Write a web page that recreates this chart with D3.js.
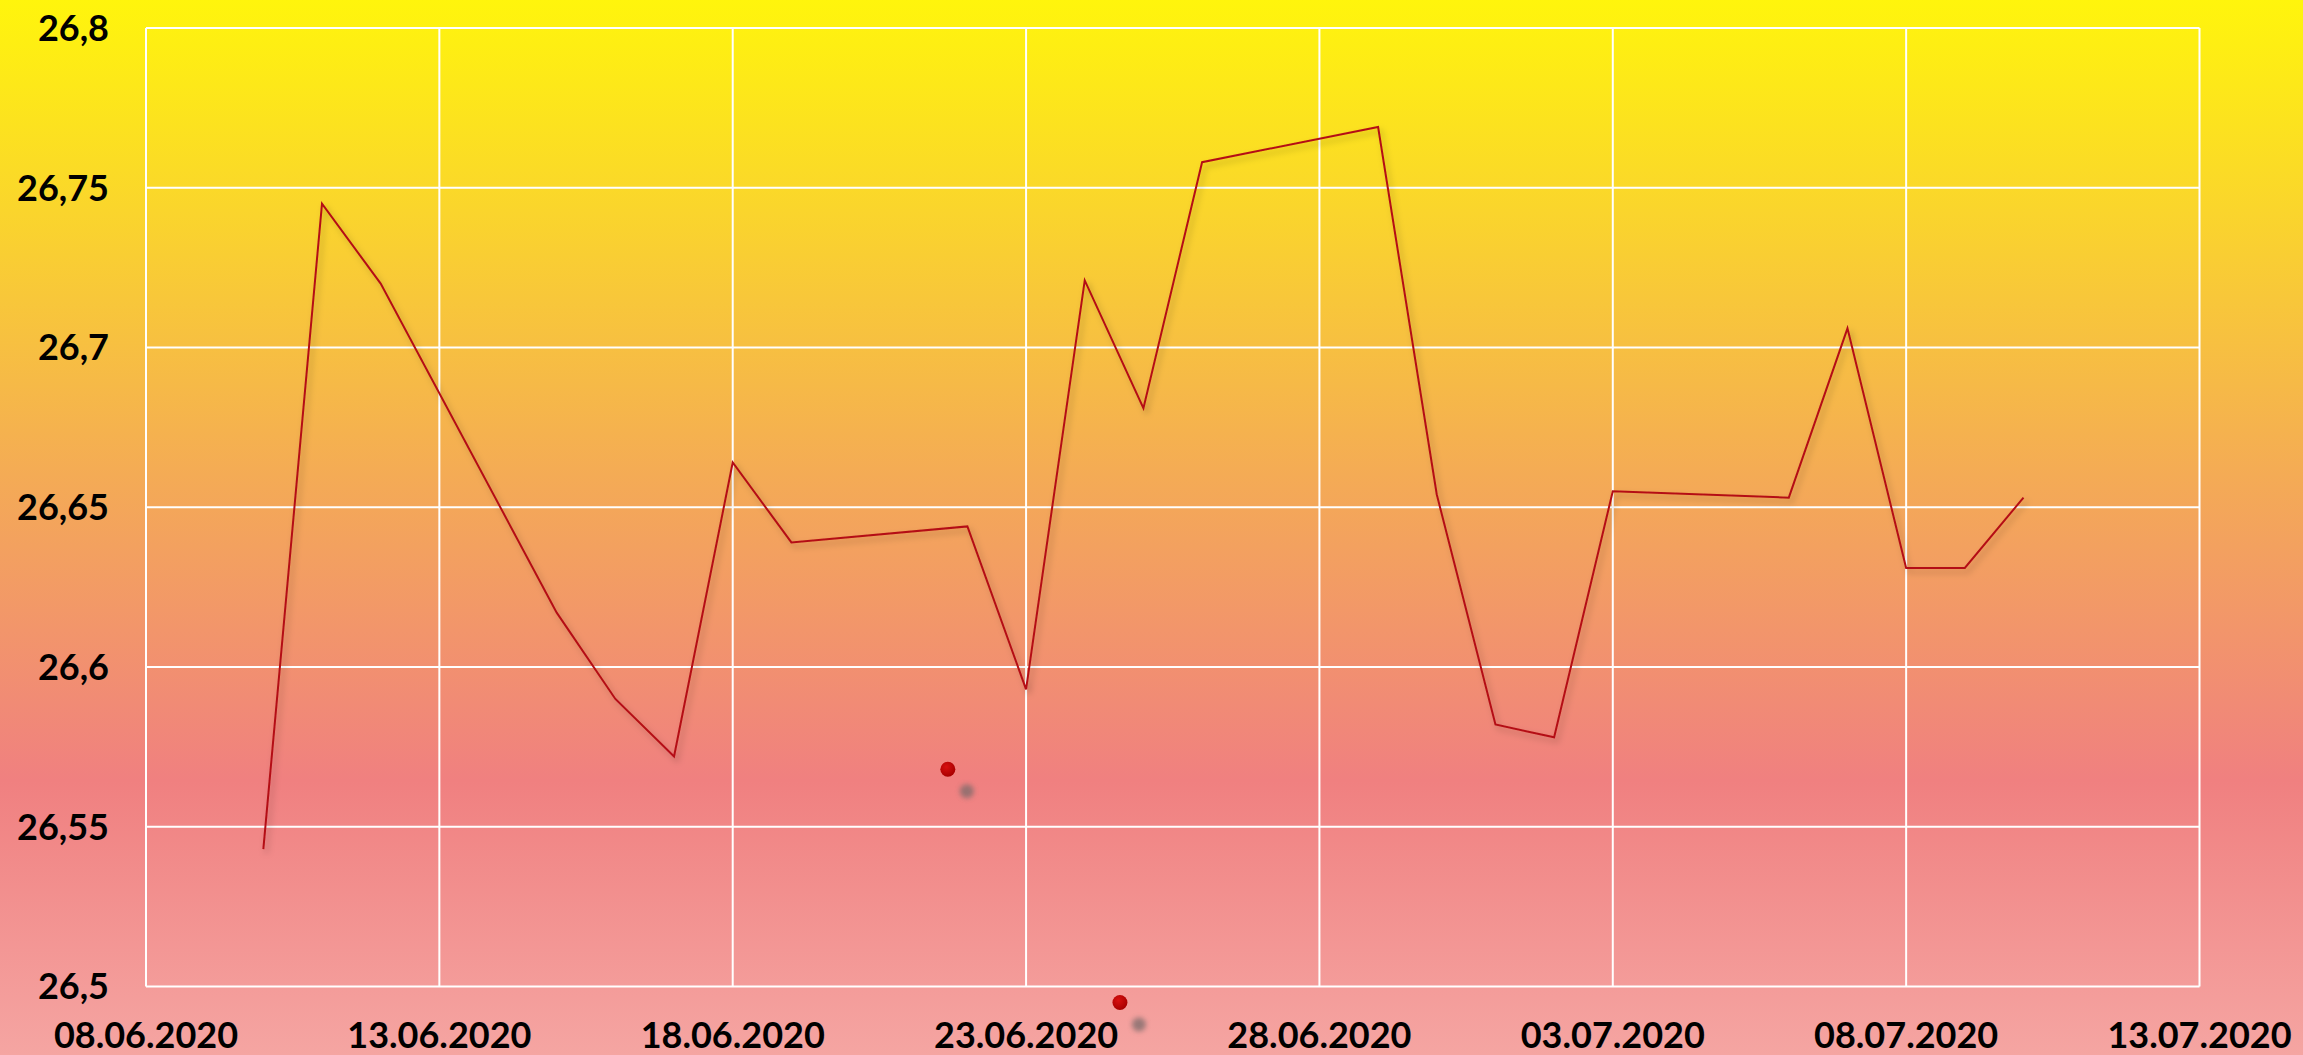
<!DOCTYPE html>
<html>
<head>
<meta charset="utf-8">
<script src="https://cdn.jsdelivr.net/npm/d3@7"></script>
<style>
  html, body { margin: 0; padding: 0; }
  svg { display: block; }
</style>
</head>
<body>
<svg id="chart" width="2303" height="1055"></svg>
<script>
// daily quotes (trading days only)
const dates = ["2020-06-10", "2020-06-11", "2020-06-12", "2020-06-15", "2020-06-16", "2020-06-17",
  "2020-06-18", "2020-06-19", "2020-06-22", "2020-06-23", "2020-06-24", "2020-06-25", "2020-06-26",
  "2020-06-29", "2020-06-30", "2020-07-01", "2020-07-02", "2020-07-03", "2020-07-06", "2020-07-07",
  "2020-07-08", "2020-07-09", "2020-07-10"];
const values = [26.543, 26.745, 26.72, 26.617, 26.590, 26.572, 26.664, 26.639, 26.644, 26.593,
  26.721, 26.681, 26.758, 26.769, 26.654, 26.582, 26.578, 26.655, 26.653, 26.706, 26.631, 26.631, 26.653];

// two stray red markers
const markerDates = ["2020-06-21T16:00:00Z", "2020-06-24T14:24:00Z"];
const markerValues = [26.568, 26.495];

// axes
const xTicks = ["2020-06-08", "2020-06-13", "2020-06-18", "2020-06-23", "2020-06-28",
  "2020-07-03", "2020-07-08", "2020-07-13"];
const yTicks = [26.5, 26.55, 26.6, 26.65, 26.7, 26.75, 26.8];
const yLabels = ["26,5", "26,55", "26,6", "26,65", "26,7", "26,75", "26,8"];

const svg = d3.select("#chart");
const W = +svg.attr("width");
const H = +svg.attr("height");
const margin = { top: 28, right: 103.5, bottom: 68.5, left: 146 };

const parse = s => new Date(s.length > 10 ? s : s + "T00:00:00Z");
const data = dates.map((d, i) => ({ date: parse(d), value: values[i] }));
const markers = markerDates.map((d, i) => ({ date: parse(d), value: markerValues[i] }));

// background gradient
const defs = svg.append("defs");
const grad = defs.append("linearGradient")
  .attr("id", "bg").attr("x1", 0).attr("y1", 0).attr("x2", 0).attr("y2", 1);
[["0%", "#fff50c"], ["20%", "#fad52c"], ["45%", "#f4ab55"], ["74%", "#f08080"], ["100%", "#f5a5a2"]]
  .forEach(s => grad.append("stop").attr("offset", s[0]).attr("stop-color", s[1]));

const lineShadow = defs.append("filter").attr("id", "lshadow")
  .attr("x", "-10%").attr("y", "-10%").attr("width", "120%").attr("height", "120%");
lineShadow.append("feDropShadow")
  .attr("dx", 3).attr("dy", 4).attr("stdDeviation", 3)
  .attr("flood-color", "#000").attr("flood-opacity", 0.25);

const blur = defs.append("filter").attr("id", "blur")
  .attr("x", "-100%").attr("y", "-100%").attr("width", "300%").attr("height", "300%");
blur.append("feGaussianBlur").attr("stdDeviation", 2.5);

const dotGrad = defs.append("radialGradient").attr("id", "dot")
  .attr("cx", "40%").attr("cy", "35%").attr("r", "65%");
dotGrad.append("stop").attr("offset", "0%").attr("stop-color", "#d81010");
dotGrad.append("stop").attr("offset", "100%").attr("stop-color", "#a80000");

svg.append("rect").attr("width", W).attr("height", H).attr("fill", "url(#bg)");

// scales
const x = d3.scaleUtc()
  .domain([parse(xTicks[0]), parse(xTicks[xTicks.length - 1])])
  .range([margin.left, W - margin.right]);
const y = d3.scaleLinear()
  .domain([26.5, 26.8])
  .range([H - margin.bottom, margin.top]);

// grid
const grid = svg.append("g").attr("stroke", "#fff").attr("stroke-width", 2);
grid.selectAll(".h").data(yTicks).enter().append("line")
  .attr("x1", x.range()[0]).attr("x2", x.range()[1])
  .attr("y1", d => y(d)).attr("y2", d => y(d));
grid.selectAll(".v").data(xTicks).enter().append("line")
  .attr("x1", d => x(parse(d))).attr("x2", d => x(parse(d)))
  .attr("y1", y.range()[0]).attr("y2", y.range()[1]);

// labels
const font = "Lato, 'DejaVu Sans', sans-serif";
const fmtDate = d3.utcFormat("%d.%m.%Y");

svg.append("g").selectAll("text").data(yTicks).enter().append("text")
  .attr("x", 109)
  .attr("y", d => y(d))
  .attr("dy", "0.36em")
  .attr("text-anchor", "end")
  .style("font-family", font)
  .style("font-weight", "bold")
  .style("font-size", "36px")
  .attr("fill", "#000")
  .text((d, i) => yLabels[i]);

svg.append("g").selectAll("text").data(xTicks).enter().append("text")
  .attr("x", d => x(parse(d)))
  .attr("y", 1048)
  .attr("text-anchor", "middle")
  .style("font-family", font)
  .style("font-weight", "bold")
  .style("font-size", "36px")
  .attr("fill", "#000")
  .text(d => fmtDate(parse(d)));

// line
const line = d3.line().x(d => x(d.date)).y(d => y(d.value));
svg.append("path")
  .datum(data)
  .attr("d", line)
  .attr("fill", "none")
  .attr("stroke", "#b40f14")
  .attr("stroke-width", 2)
  .attr("stroke-linejoin", "miter")
  .attr("filter", "url(#lshadow)");

// markers with their soft grey shadow
const mk = svg.append("g");
mk.selectAll(".sh").data(markers).enter().append("circle")
  .attr("cx", d => x(d.date) + 19)
  .attr("cy", d => y(d.value) + 22)
  .attr("r", 7)
  .attr("fill", "#7a6a6a")
  .attr("opacity", 0.75)
  .attr("filter", "url(#blur)");
mk.selectAll(".dot").data(markers).enter().append("circle")
  .attr("cx", d => x(d.date))
  .attr("cy", d => y(d.value))
  .attr("r", 7.5)
  .attr("fill", "url(#dot)");
</script>
</body>
</html>
